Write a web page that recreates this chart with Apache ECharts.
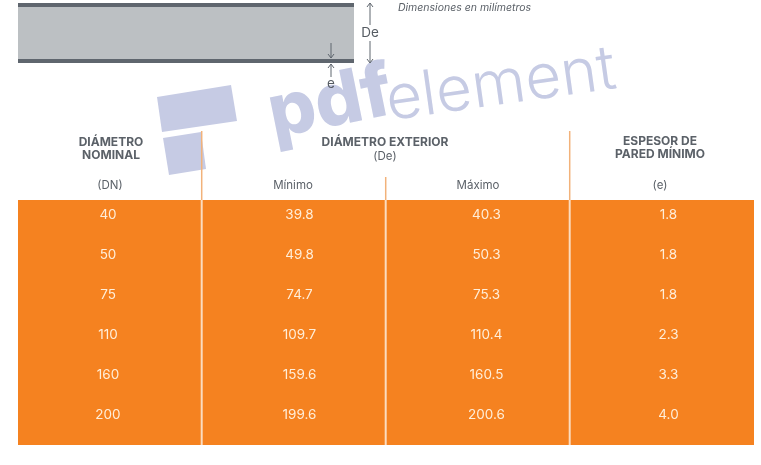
<!DOCTYPE html>
<html><head><meta charset="utf-8">
<style>html,body{margin:0;padding:0;background:#fff}#c{width:761px;height:465px}</style>
<script src="https://cdn.jsdelivr.net/npm/echarts@6/dist/echarts.min.js"></script>
</head><body><div id="c"></div>
<script>
const columns = ['DN','min','max','e'];
const nominal = ['40','50','75','110','160','200'];
const minimo  = ['39.8','49.8','74.7','109.7','159.6','199.6'];
const maximo  = ['40.3','50.3','75.3','110.4','160.5','200.6'];
const espesor = ['1.8','1.8','1.8','2.3','3.3','4.0'];
const subHeaders = ['(DN)','Mínimo','Máximo','(e)'];
const FONT = 'Inter';
const HEAD = '#5b6168', ORANGE = '#f58220', CELL = '#ffeed9', RULE = '#f2b27a', RULE_IN = '#fbdcc0';

const valueCols = [nominal, minimo, maximo, espesor];
const cellData = [];
valueCols.forEach((col, c) => col.forEach((v, r) => cellData.push([c, r])));
const subData = subHeaders.map((t, c) => [c, -0.7]);
const cellShift = [-2, 5.5, 8.5, 6.5];
const subShift = [0, -1, 0, -2];

const chart = echarts.init(document.getElementById('c'), null, {renderer:'canvas'});
const mark = '#c6cbe4';
const arrows = [[370,25,370,3,1],[370,41,370,63,0],[331,43,331,58,0],[331,77,331,64,1]];
chart.setOption({
  animation:false,
  backgroundColor:'#fff',
  grid:{left:18,top:131,width:736,height:314,containLabel:false},
  xAxis:{type:'category',data:columns,boundaryGap:true,show:false},
  yAxis:{type:'value',inverse:true,min:-2.075,max:5.775,show:false},
  graphic:[
    {type:'rect',z:1,shape:{x:18,y:7,width:336,height:52},style:{fill:'#bcc0c3'}},
    {type:'rect',z:1,shape:{x:18,y:3,width:336,height:4},style:{fill:'#5f666e'}},
    {type:'rect',z:1,shape:{x:18,y:59,width:336,height:4},style:{fill:'#5f666e'}},
    ...arrows.flatMap(a=>{
      const [x1,y1,x2,y2,up]=a, d=up?4:-4;
      return [{type:'polyline',z:3,shape:{points:[[x1,y1],[x2,y2]]},style:{stroke:'#5f666e',lineWidth:1,fill:null}},
              {type:'polyline',z:3,shape:{points:[[x2-3,y2+d],[x2,y2],[x2+3,y2+d]]},style:{stroke:'#5f666e',lineWidth:1,fill:null}}];
    }),
    {type:'text',z:3,style:{x:370,y:33,text:'De',font:'13.5px '+FONT,fill:'#555b62',textAlign:'center',textVerticalAlign:'middle'}},
    {type:'text',z:3,style:{x:331,y:84,text:'e',font:'13.5px '+FONT,fill:'#555b62',textAlign:'center',textVerticalAlign:'middle'}},
    {type:'text',z:3,style:{x:398,y:8,text:'Dimensiones en milímetros',font:'italic 10.5px '+FONT,fill:'#5b6168',textAlign:'left',textVerticalAlign:'middle'}},
    {type:'polygon',z:0,shape:{points:[[157,97],[231,85],[237,121],[162,132]]},style:{fill:mark}},
    {type:'polygon',z:0,shape:{points:[[163,138],[201,132],[206,169],[169,175]]},style:{fill:mark}},
    {type:'text',z:0,x:262,y:80,rotation:0.2,originX:0,originY:0,style:{x:0,y:0,text:'pdf',font:'800 74px '+FONT,fill:mark,textAlign:'left',textVerticalAlign:'top'}},
    {type:'text',z:0,x:382,y:71,rotation:0.14,originX:0,originY:0,style:{x:0,y:0,text:'element',font:'300 62px '+FONT,fill:mark,textAlign:'left',textVerticalAlign:'top'}},
    {type:'text',z:3,style:{x:111,y:148.5,text:'DIÁMETRO\nNOMINAL',font:'bold 12px '+FONT,lineHeight:13,fill:HEAD,textAlign:'center',textVerticalAlign:'middle'}},
    {type:'text',z:3,style:{x:385,y:142,text:'DIÁMETRO EXTERIOR',font:'bold 12px '+FONT,fill:HEAD,textAlign:'center',textVerticalAlign:'middle'}},
    {type:'text',z:3,style:{x:385,y:157,text:'(De)',font:'11.5px '+FONT,fill:HEAD,textAlign:'center',textVerticalAlign:'middle'}},
    {type:'text',z:3,style:{x:660,y:148,text:'ESPESOR DE\nPARED MÍNIMO',font:'bold 12px '+FONT,lineHeight:13,fill:HEAD,textAlign:'center',textVerticalAlign:'middle'}}
  ],
  series:[
    {type:'custom',z:2,silent:true,data:columns.map((c,i)=>[i]),encode:{x:0},
     renderItem(p,api){
       const x=api.coord([api.value(0),0])[0], w=api.size([1,0])[0];
       const top=api.coord([0,-0.35])[1], bot=api.coord([0,5.775])[1], head=p.coordSys.y;
       const kids=[{type:'rect',shape:{x:x-w/2,y:top,width:w,height:bot-top},style:{fill:ORANGE}}];
       const i=api.value(0);
       if(i>0){
         const rx=x-w/2-0.3, rt=i===2?177:head;
         kids.push({type:'rect',z2:2,shape:{x:rx-0.75,y:rt,width:1.5,height:top-rt},style:{fill:RULE}});
         kids.push({type:'rect',z2:2,shape:{x:rx-1,y:top,width:2,height:bot-top},style:{fill:RULE_IN}});
       }
       return {type:'group',children:kids};
     }},
    {type:'custom',z:4,silent:true,data:subData,encode:{x:0,y:1},
     renderItem(p,api){
       const i=api.value(0), c=api.coord([i,api.value(1)]);
       return {type:'text',style:{x:c[0]+subShift[i],y:c[1],text:subHeaders[i],font:'11.5px '+FONT,fill:HEAD,textAlign:'center',textVerticalAlign:'middle'}};
     }},
    {type:'custom',z:4,silent:true,data:cellData,encode:{x:0,y:1},
     renderItem(p,api){
       const ci=api.value(0), ri=api.value(1), c=api.coord([ci,ri]);
       return {type:'text',style:{x:c[0]+cellShift[ci],y:c[1]+1,text:valueCols[ci][ri],font:'13.5px '+FONT,fill:CELL,textAlign:'center',textVerticalAlign:'middle'}};
     }}
  ]
});
</script></body></html>
